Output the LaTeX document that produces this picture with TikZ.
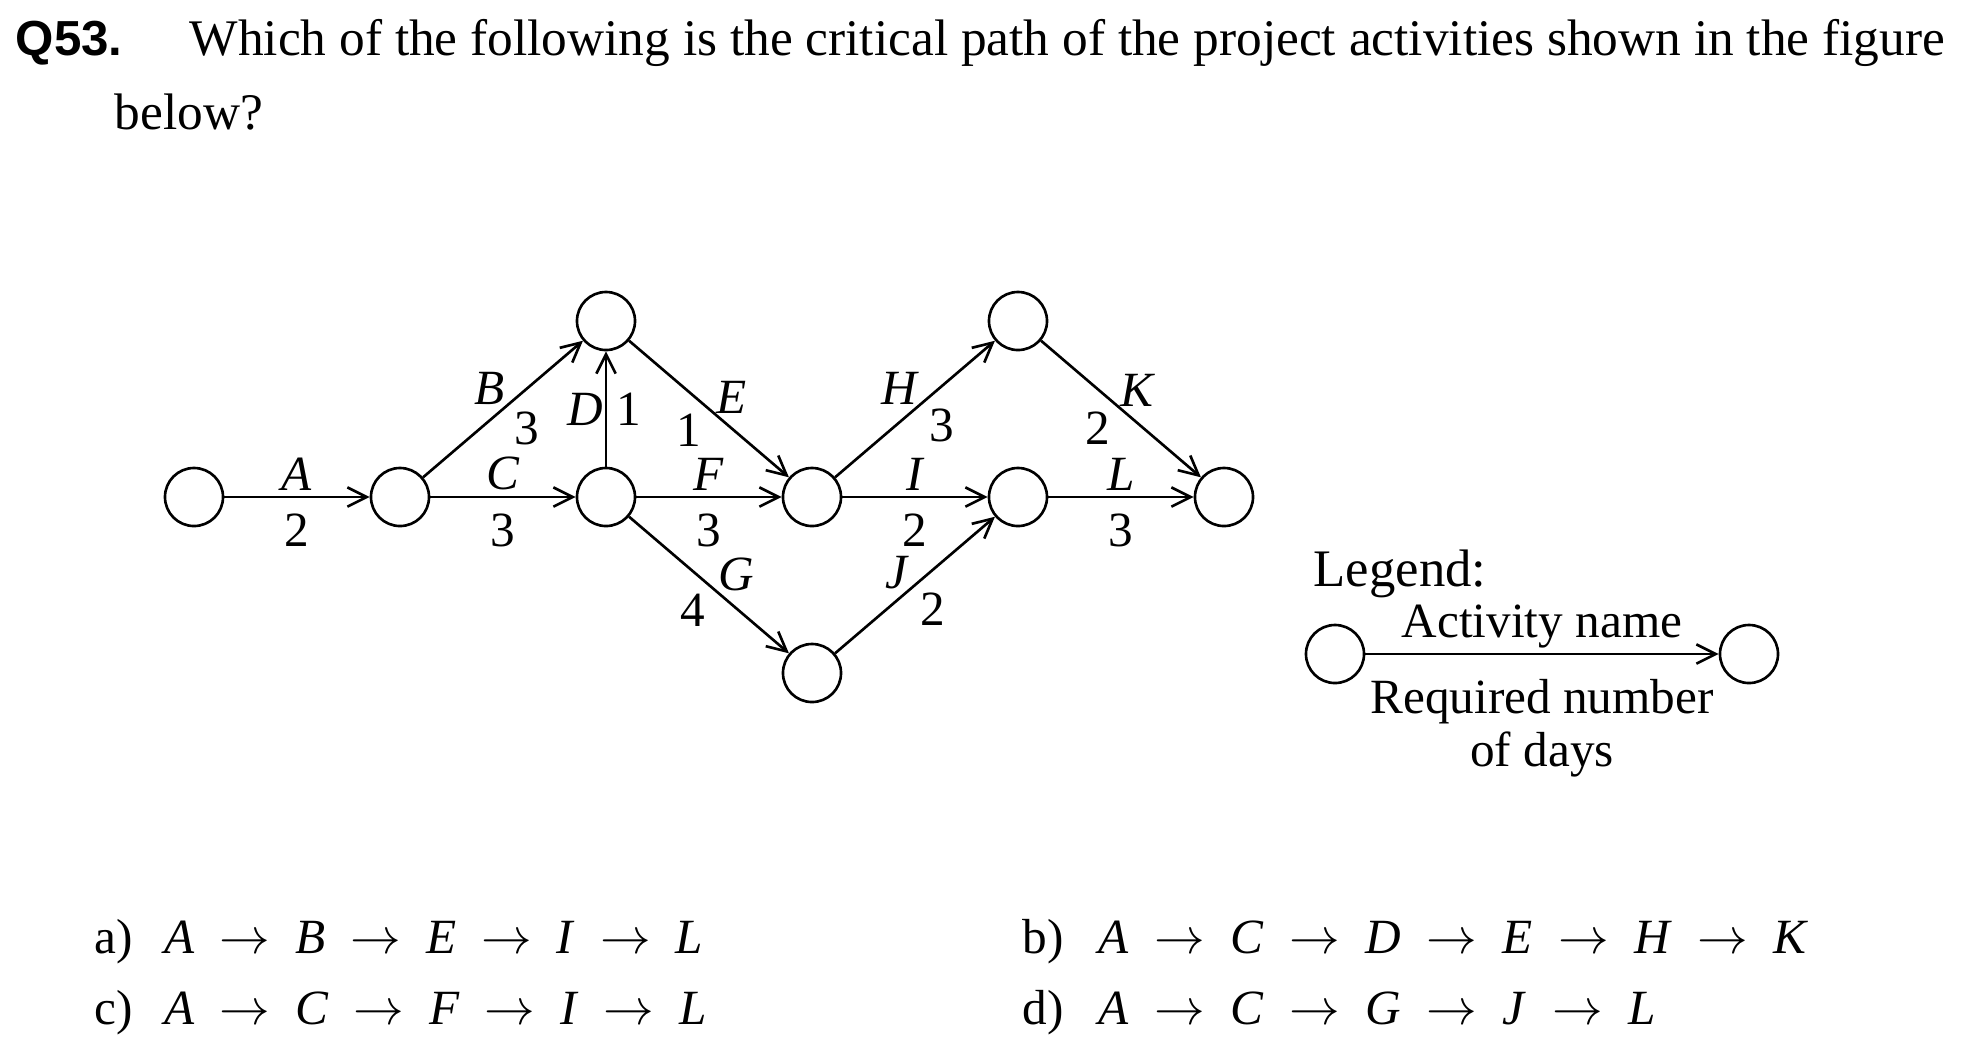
\documentclass[tikz,border=0pt]{standalone}
\usepackage{fontspec}
\setmainfont{Liberation Serif}
\newfontfamily\qfont{Liberation Sans}
\usetikzlibrary{arrows.meta}
\newcommand{\nxt}[1][7.1pt]{\hspace{#1}$\rightarrow$\hspace{#1}}
\begin{document}
\begin{tikzpicture}
            [
                x = 0.01cm, y = -0.01cm,
                every node/.style = {font=\fontsize{14}{15}\selectfont},
                event/.style = {shape=circle, draw, line width=0.75pt,
                minimum size=0.58cm, inner sep=0pt},
                act/.style = {line width=0.75pt,
                -{Straight Barb[length=5.5pt,width=5.5pt]}},
                actname/.style = {font=\fontsize{14}{15}\selectfont\itshape, inner sep=0pt},
                actdays/.style = {inner sep=1.5pt},
                txt/.style = {anchor=base west, inner sep=0pt}
            ]
            \useasboundingbox (0,0) rectangle (1966,1053);
            \node[txt, font=\fontsize{14}{15}\selectfont\qfont\bfseries] (qnum) at (15,55) {Q53.};
            \node[txt, font=\fontsize{14.6}{16}\selectfont] (qline) at (189,55) {Which of the following is the critical path of the project activities shown in the figure};
            \node[txt, font=\fontsize{14.6}{16}\selectfont] (qrest) at (114,129) {below?};

            \node[event] (e1) at (194,497) {};
            \node[event] (e2) at (400,497) {};
            \node[event] (e3) at (606,497) {};
            \node[event] (e4) at (606,321) {};
            \node[event] (e5) at (812,497) {};
            \node[event] (e6) at (812,673) {};
            \node[event] (e7) at (1018,321) {};
            \node[event] (e8) at (1018,497) {};
            \node[event] (e9) at (1224,497) {};

            \draw[act] (e1) -- node[actname, above=1.5pt] {A} node[actdays, below=3pt] {2} (e2);
            \draw[act] (e2) -- node[actname, pos=0.52, above left] {B} node[actdays, pos=0.53, below right] {3} (e4);
            \draw[act] (e2) -- node[actname, above=1.5pt] {C} node[actdays, below=3pt] {3} (e3);
            \draw[act] (e3) -- node[actname, left=0.5pt] {D} node[actdays, right=1pt] {1} (e4);
            \draw[act] (e4) -- node[actname, pos=0.54, above right] {E} node[actdays, pos=0.49, below left] {1} (e5);
            \draw[act] (e3) -- node[actname, above=1.5pt] {F} node[actdays, below=3pt] {3} (e5);
            \draw[act] (e3) -- node[actname, pos=0.55, above right] {G} node[actdays, pos=0.52, below left] {4} (e6);
            \draw[act] (e5) -- node[actname, pos=0.52, above left] {H} node[actdays, pos=0.55, below right] {3} (e7);
            \draw[act] (e5) -- node[actname, above=1.5pt] {I} node[actdays, below=3pt] {2} (e8);
            \draw[act] (e6) -- node[actname, pos=0.46, above left] {J} node[actdays, pos=0.49, below right] {2} (e8);
            \draw[act] (e7) -- node[actname, pos=0.49, above right] {K} node[actdays, pos=0.47, below left] {2} (e9);
            \draw[act] (e8) -- node[actname, above=1.5pt] {L} node[actdays, below=3pt] {3} (e9);

            \node[txt, font=\fontsize{15}{16}\selectfont] (legend) at (1313,586) {Legend:};
            \node[event] (lg1) at (1335,654) {};
            \node[event] (lg2) at (1749,654) {};
            \draw[act] (lg1) -- node[above=-2pt] {Activity name}
                node[below=3.5pt, align=center] {Required number\\of days} (lg2);

            \node[txt] (opta) at (94,953) {a)\hspace{9pt}\textit{A}\nxt\textit{B}\nxt\textit{E}\nxt\textit{I}\nxt\textit{L}};
            \node[txt] (optc) at (94,1024) {c)\hspace{9pt}\textit{A}\nxt\textit{C}\nxt\textit{F}\nxt\textit{I}\nxt\textit{L}};
            \node[txt] (optb) at (1022,953) {b)\hspace{10pt}\textit{A}\nxt[7.25pt]\textit{C}\nxt[7.25pt]\textit{D}\nxt[7.25pt]\textit{E}\nxt[7.25pt]\textit{H}\nxt[7.25pt]\textit{K}};
            \node[txt] (optd) at (1022,1024) {d)\hspace{10pt}\textit{A}\nxt[7.25pt]\textit{C}\nxt[7.25pt]\textit{G}\nxt[7.25pt]\textit{J}\nxt[7.25pt]\textit{L}};
        \end{tikzpicture}
\end{document}
